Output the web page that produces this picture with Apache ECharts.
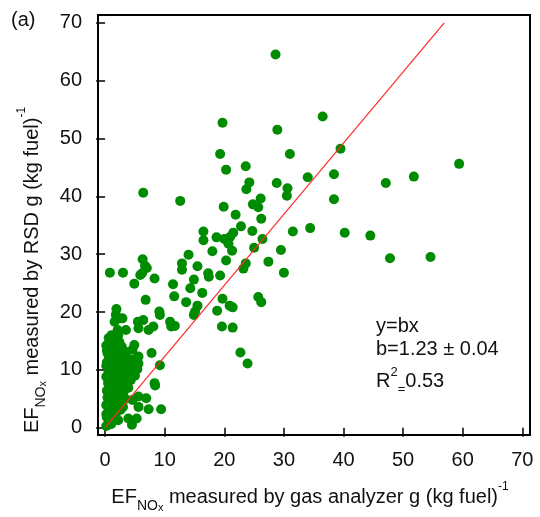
<!DOCTYPE html>
<html>
<head>
<meta charset="utf-8">
<script src="https://cdn.jsdelivr.net/npm/echarts@6/dist/echarts.min.js"></script>
<style>
html, body { margin: 0; padding: 0; background: #fff; }
#chart { width: 540px; height: 517px; }
</style>
</head>
<body>
<div id="chart"></div>
<script>
// EF NOx: [gas analyzer, RSD] pairs, g (kg fuel)^-1
var upperPts = [
    [28.6,64.5],[19.7,52.7],[28.9,51.5],[36.5,53.8],[39.5,48.2],[19.3,47.3],[31.0,47.3],[59.4,45.6],
    [20.3,44.6],[23.6,45.2],[34.0,43.3],[38.4,43.8],[51.8,43.4],[47.1,42.3],[24.2,42.4],[23.7,41.2],
    [28.8,42.3],[30.6,41.4],[30.5,40.1],[6.4,40.6],[12.6,39.2],[38.4,39.5],[26.1,39.6],[24.8,38.6],
    [25.7,38.1],[19.9,38.2],[21.9,36.8],[26.2,36.1],[22.8,34.8],[21.5,33.7],[21.0,33.0],[16.5,33.9],
    [16.5,32.4],[18.7,32.9],[20.0,32.6],[20.7,31.8],[21.3,30.6],[24.7,34.0],[26.4,32.6],[25.0,31.1],
    [31.5,33.9],[34.4,34.5],[40.2,33.7],[44.5,33.2],[29.5,30.7],[47.8,29.3],[54.6,29.5],[27.4,28.7],
    [30.0,26.8],[23.6,28.4],[23.2,27.5],[20.3,28.9],[18.0,30.5],[14.0,29.9],[12.9,28.4],[12.9,27.3],
    [15.5,27.9],[17.3,26.7],[17.4,26.1],[19.3,26.3],[14.9,25.6],[14.3,24.1],[16.3,23.3],[19.7,22.3],
    [25.7,22.6],[26.2,21.7]
];
var midPts = [
    [11.4,24.8],[11.6,22.7],[13.6,21.7],[15.5,21.1],[15.1,20.1],[14.9,19.5],[20.9,21.1],[21.4,20.8],
    [18.8,20.2],[19.6,17.5],[21.4,17.3],[10.9,18.3],[11.7,17.6],[11.1,17.5],[22.7,13.0],[23.9,11.1],
    [6.3,29.1],[6.7,28.0],[7.0,27.6],[6.2,26.7],[5.9,26.4],[8.3,25.8],[4.9,24.9],[0.8,26.8],
    [3.0,26.8],[6.8,22.1],[1.9,20.5],[1.8,19.5],[2.2,18.9],[2.9,18.9],[1.6,18.3],[3.5,16.9],
    [2.1,16.9],[5.5,18.3],[6.4,18.6],[5.6,17.2],[8.1,17.5],[9.1,20.1],[9.2,19.5]
];
var lowPts = [
    [1.1,16.0],[2.2,16.0],[7.3,16.9],[0.3,13.4],[2.8,14.0],[4.9,14.3],[7.8,12.9],[5.6,12.3],
    [9.2,10.8],[8.3,7.7],[8.4,7.3],[6.9,5.1],[7.3,3.2],[9.4,3.2],[3.9,1.6],[5.3,1.6],
    [4.5,0.5],[5.6,3.6],[5.6,5.4],[4.6,4.8]
];
var clusterPts = [
    [0.2,0.3],[0.6,1.0],[0.3,1.8],[1.0,0.6],[1.3,1.7],[0.5,2.7],[1.1,2.9],[1.8,2.4],[2.2,1.3],[2.6,3.1],
    [0.2,3.9],[0.9,4.2],[1.6,3.7],[2.3,4.5],[3.0,3.6],[0.4,5.2],[1.2,5.6],[1.9,5.1],[2.7,5.7],[3.4,5.0],
    [0.3,6.4],[1.0,6.9],[1.7,6.3],[2.4,6.8],[3.2,6.4],[3.9,6.9],[0.5,7.7],[1.3,8.0],[2.1,7.5],[2.9,8.1],
    [3.6,7.7],[4.3,8.2],[0.2,8.8],[0.9,9.2],[1.7,8.7],[2.5,9.3],[3.3,8.9],[4.1,9.4],[5.0,9.0],[0.5,10.1],
    [1.3,10.4],[2.1,9.9],[2.9,10.6],[3.8,10.2],[4.7,10.6],[5.4,10.1],[0.3,11.3],[1.0,11.7],[1.8,11.2],[2.6,11.8],
    [3.4,11.4],[4.3,11.8],[0.6,12.5],[1.4,12.8],[2.2,12.4],[3.0,12.9],[0.2,14.2],[1.0,14.6],[1.8,13.9],[2.4,14.8],
    [0.6,15.5],[1.5,15.3],[3.6,13.1],[3.4,12.0],[5.3,12.0],[5.6,11.1],[4.6,13.5],[0.2,10.7],[0.4,12.9],[1.2,13.4],
    [0.8,3.4],[0.2,2.3],[1.5,4.4],[0.7,4.8],[1.4,6.0],[0.7,6.1],[2.0,8.2],[0.6,9.7],[1.6,10.0],[2.9,9.4]
];
var tickVals = [0, 10, 20, 30, 40, 50, 60, 70];
var slopeB = 1.23;
var fitX = [0, 56.9];

var allPts = upperPts.concat(midPts, lowPts, clusterPts);
var fitLine = fitX.map(function (x) { return [x, slopeB * x]; });

var FONT = 'Liberation Sans, Arial, sans-serif';
var TXT = '#111';

var myChart = echarts.init(document.getElementById('chart'));
var option = {
    animation: false,
    grid: {
        show: true, left: 98, right: 10, top: 15, bottom: 82,
        borderColor: '#000', borderWidth: 2, backgroundColor: 'transparent'
    },
    xAxis: {
        type: 'value', min: -1.19, max: 71.29,
        axisLine: { show: false },
        splitLine: { show: false },
        axisTick: { show: true, customValues: tickVals, length: 9, lineStyle: { color: '#000', width: 1.5 } },
        axisLabel: { customValues: tickVals, fontSize: 20, color: TXT, fontFamily: FONT, margin: 15 }
    },
    yAxis: {
        type: 'value', min: -1.26, max: 71.33,
        axisLine: { show: false },
        splitLine: { show: false },
        axisTick: { show: true, customValues: tickVals, length: 9, lineStyle: { color: '#000', width: 1.5 } },
        axisLabel: { customValues: tickVals, fontSize: 20, color: TXT, fontFamily: FONT, margin: 16 }
    },
    series: [
        {
            type: 'scatter', data: allPts, symbolSize: 10,
            itemStyle: { color: '#008c00', opacity: 1 }, z: 2
        },
        {
            type: 'line', data: fitLine, symbol: 'none', z: 3,
            lineStyle: { color: '#ff2a2a', width: 1.2 }
        }
    ],
    graphic: [
        { type: 'text', left: 11, top: 10, style: { text: '(a)', fontSize: 20, fontFamily: FONT, fill: TXT } },
        {
            type: 'text', x: 310, y: 497,
            style: {
                text: '{m|EF}{s|NO}{ss|x}{m| measured by gas analyzer g (kg fuel)}{p|-1}',
                align: 'center', verticalAlign: 'middle', fill: TXT,
                rich: {
                    m: { fontSize: 20, lineHeight: 32, fontFamily: FONT, fill: TXT },
                    s: { fontSize: 14, verticalAlign: 'bottom', fontFamily: FONT, fill: TXT },
                    ss: { fontSize: 11, lineHeight: 4, verticalAlign: 'bottom', fontFamily: FONT, fill: TXT },
                    p: { fontSize: 12, verticalAlign: 'top', fontFamily: FONT, fill: TXT }
                }
            }
        },
        {
            type: 'text', x: 32, y: 270, rotation: Math.PI / 2,
            style: {
                text: '{m|EF}{s|NO}{ss|x}{m| measured by RSD g (kg fuel)}{p|-1}',
                align: 'center', verticalAlign: 'middle', fill: TXT,
                rich: {
                    m: { fontSize: 20, lineHeight: 32, fontFamily: FONT, fill: TXT },
                    s: { fontSize: 14, verticalAlign: 'bottom', fontFamily: FONT, fill: TXT },
                    ss: { fontSize: 11, lineHeight: 4, verticalAlign: 'bottom', fontFamily: FONT, fill: TXT },
                    p: { fontSize: 12, verticalAlign: 'top', fontFamily: FONT, fill: TXT }
                }
            }
        },
        { type: 'text', x: 376, y: 326.5, style: { text: 'y=bx', fontSize: 20, fontFamily: FONT, fill: TXT, verticalAlign: 'middle' } },
        { type: 'text', x: 376, y: 349, style: { text: 'b=1.23 ± 0.04', fontSize: 20, fontFamily: FONT, fill: TXT, verticalAlign: 'middle' } },
        {
            type: 'text', x: 376, y: 381,
            style: {
                text: '{m|R}{p|2}{e|=}{m|0.53}', verticalAlign: 'middle', fill: TXT,
                rich: {
                    m: { fontSize: 20, lineHeight: 30, fontFamily: FONT, fill: TXT },
                    p: { fontSize: 13, verticalAlign: 'top', fontFamily: FONT, fill: TXT },
                    e: { fontSize: 13, lineHeight: 20, verticalAlign: 'bottom', fontFamily: FONT, fill: TXT }
                }
            }
        }
    ]
};
myChart.setOption(option);
</script>
</body>
</html>
